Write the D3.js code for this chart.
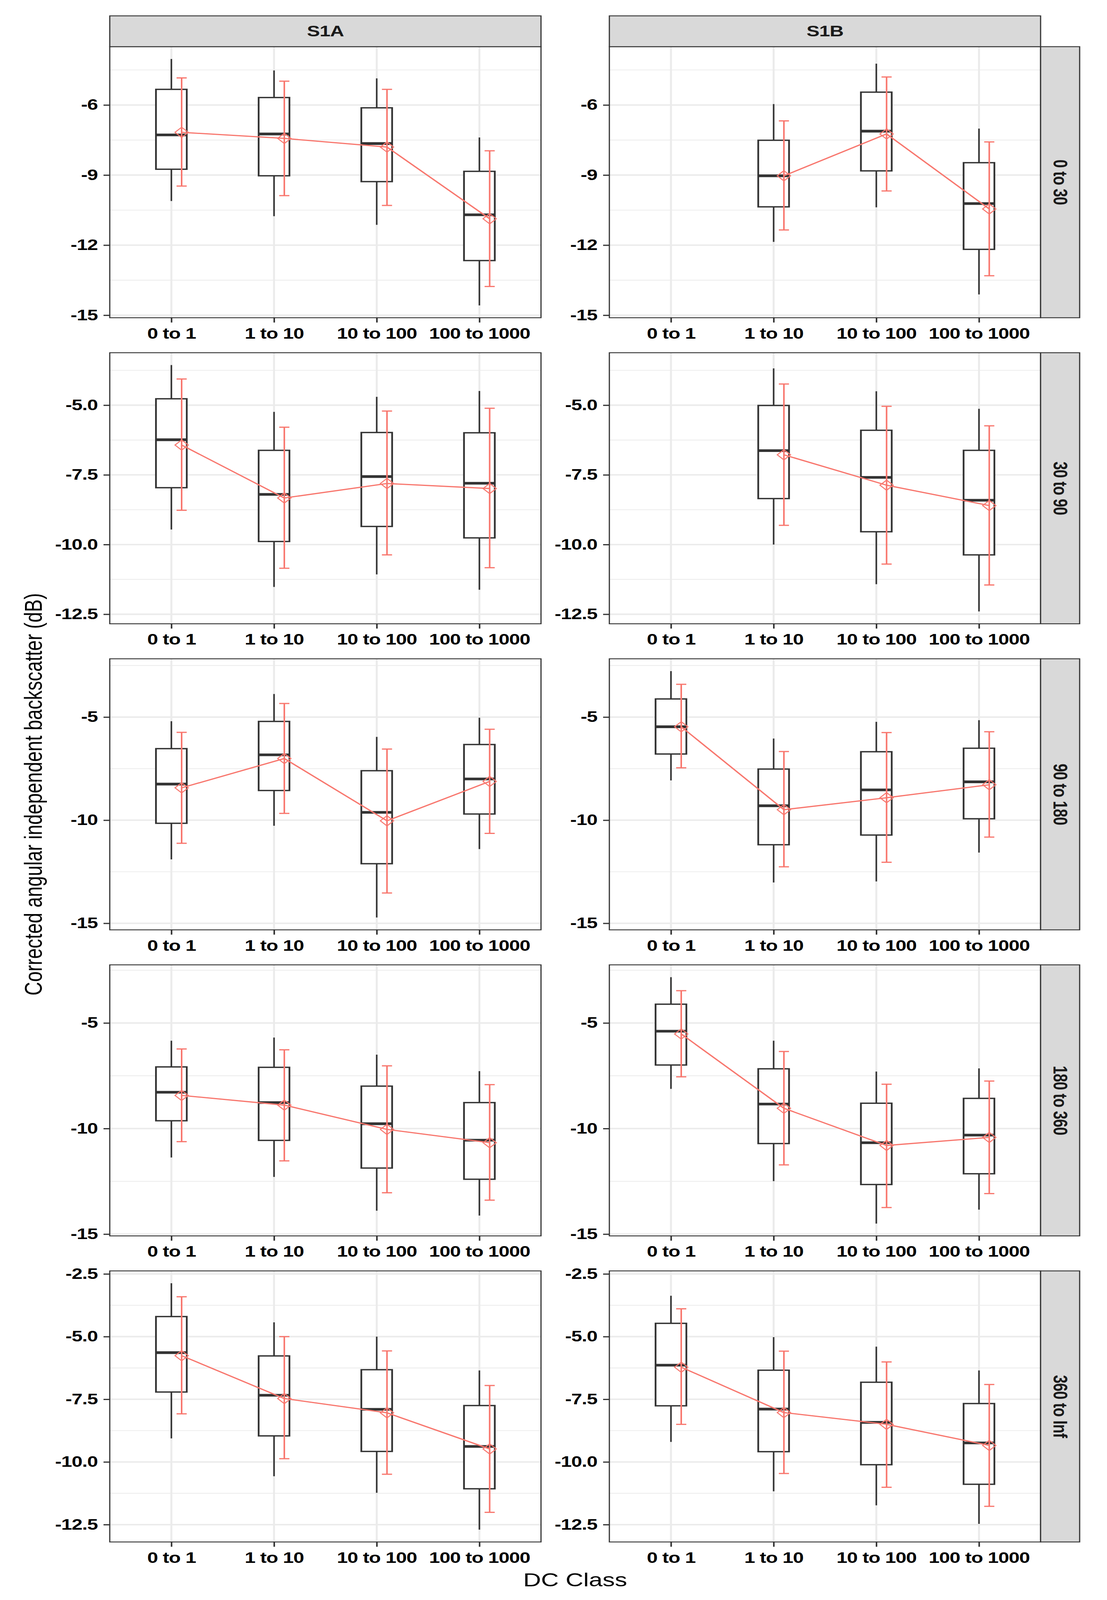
<!DOCTYPE html>
<html lang="en">
<head>
<meta charset="UTF-8">
<title>Corrected backscatter by DC class</title>
<script src="https://d3js.org/d3.v7.min.js"></script>
<style>
  html, body { margin: 0; padding: 0; background: #fff; overflow: hidden; }
  svg { display: block; width: 100vw; height: 100vh; background: #fff; font-family: "Liberation Sans", Arial, Helvetica, sans-serif; }
  .tick text { font-size: 50px; font-weight: bold; fill: #000; letter-spacing: -1px; }
  .strip-label { font-size: 50px; font-weight: bold; fill: #1a1a1a; letter-spacing: -1px; }
  .axis-title { font-size: 63px; fill: #000; }
</style>
</head>
<body>
<!-- drawn in a 2834x5348 frame, stretched onto whatever viewport the browser gives -->
<svg id="chart" viewBox="0 0 2834 5348" preserveAspectRatio="none"></svg>
<script>
const dcClasses = ["0 to 1", "1 to 10", "10 to 100", "100 to 1000"];
const sensors = ["S1A", "S1B"];
const angleBins = ["0 to 30", "30 to 90", "90 to 180", "180 to 360", "360 to Inf"];

// y breaks per angle bin (row) and decimals shown
const yTicks = [
  [-6, -9, -12, -15],
  [-5, -7.5, -10, -12.5],
  [-5, -10, -15],
  [-5, -10, -15],
  [-2.5, -5, -7.5, -10, -12.5]
];
const yDecimals = [0, 1, 0, 0, 1];

// boxplot stats: [lower whisker, q1, median, q3, upper whisker]
const s1aBox = [
  [[-10.11, -8.75, -7.28, -5.33, -4.03], [-10.76, -9.03, -7.24, -5.68, -4.52], [-11.13, -9.28, -7.65, -6.12, -4.86], [-14.58, -12.66, -10.70, -8.84, -7.39]],
  [[-9.46, -7.96, -6.24, -4.77, -3.56], [-11.52, -9.89, -8.20, -6.62, -5.24], [-11.07, -9.35, -7.56, -5.98, -4.70], [-11.62, -9.76, -7.80, -5.99, -4.49]],
  [[-11.90, -10.15, -8.25, -6.53, -5.20], [-10.27, -8.56, -6.83, -5.21, -3.88], [-14.72, -12.11, -9.62, -7.60, -5.96], [-11.40, -9.70, -8.00, -6.33, -5.03]],
  [[-11.37, -9.63, -8.28, -7.08, -5.84], [-12.29, -10.56, -8.77, -7.10, -5.69], [-13.89, -11.87, -9.77, -7.99, -6.50], [-14.12, -12.40, -10.55, -8.77, -7.28]],
  [[-9.06, -7.21, -5.64, -4.20, -2.87], [-10.57, -8.96, -7.34, -5.77, -4.43], [-11.23, -9.58, -7.90, -6.32, -5.00], [-12.70, -11.07, -9.38, -7.75, -6.35]]
];
const s1bBox = [
  [null, [-11.86, -10.36, -9.03, -7.51, -5.96], [-10.38, -8.82, -7.12, -5.45, -4.23], [-14.11, -12.18, -10.22, -8.47, -7.01]],
  [null, [-10.00, -8.35, -6.63, -5.01, -3.68], [-11.42, -9.54, -7.59, -5.90, -4.50], [-12.40, -10.37, -8.41, -6.62, -5.13]],
  [[-8.07, -6.79, -5.47, -4.12, -2.77], [-13.02, -11.19, -9.30, -7.52, -6.04], [-12.97, -10.72, -8.53, -6.68, -5.23], [-11.57, -9.93, -8.14, -6.51, -5.15]],
  [[-8.12, -6.99, -5.39, -4.11, -2.83], [-12.49, -10.71, -8.84, -7.17, -5.84], [-14.50, -12.65, -10.67, -8.80, -7.30], [-13.84, -12.14, -10.31, -8.57, -7.15]],
  [[-9.20, -7.76, -6.14, -4.47, -3.37], [-11.17, -9.59, -7.89, -6.34, -5.02], [-11.73, -10.11, -8.42, -6.82, -5.40], [-12.47, -10.89, -9.24, -7.67, -6.35]]
];

// mean and error bar ends
const s1aMean = [
  [-7.17, -7.43, -7.80, -10.87],
  [-6.43, -8.33, -7.81, -7.99],
  [-8.43, -7.01, -10.03, -8.12],
  [-8.43, -8.89, -10.04, -10.67],
  [-5.76, -7.47, -8.04, -9.48]
];
const s1aErrLo = [
  [-9.47, -9.88, -10.30, -13.77],
  [-8.77, -10.85, -10.37, -10.83],
  [-11.12, -9.67, -13.53, -10.64],
  [-10.62, -11.53, -13.04, -13.39],
  [-8.08, -9.87, -10.49, -12.01]
];
const s1aErrHi = [
  [-4.84, -4.98, -5.33, -7.96],
  [-4.06, -5.79, -5.21, -5.11],
  [-5.74, -4.34, -6.55, -5.59],
  [-6.23, -6.27, -7.03, -7.92],
  [-3.41, -5.00, -5.57, -6.95]
];
const s1bMean = [
  [null, -9.03, -7.24, -10.45],
  [null, -6.78, -7.87, -8.60],
  [-5.47, -9.49, -8.91, -8.28],
  [-5.52, -9.04, -10.80, -10.42],
  [-6.22, -8.03, -8.50, -9.34]
];
const s1bErrLo = [
  [null, -11.35, -9.68, -13.31],
  [null, -9.31, -10.70, -11.45],
  [-7.46, -12.26, -12.04, -10.82],
  [-7.55, -11.72, -13.74, -13.08],
  [-8.50, -10.46, -11.01, -11.77]
];
const s1bErrHi = [
  [null, -6.68, -4.80, -7.58],
  [null, -4.24, -5.04, -5.74],
  [-3.41, -6.67, -5.75, -5.71],
  [-3.47, -6.35, -7.90, -7.75],
  [-3.89, -5.58, -6.01, -6.91]
];

const boxes = [s1aBox, s1bBox];
const means = [s1aMean, s1bMean];
const errLo = [s1aErrLo, s1bErrLo];
const errHi = [s1aErrHi, s1bErrHi];

// layout
const svg = d3.select("#chart");
const panelX = [281, 1560];
const panelW = 1104, panelH = 906;
const rowTop = angleBins.map((_, i) => 156 + i * 1023);
const stripTop = 53, stripH = 103, stripRW = 100;
const red = "#F8766D", ink = "#333333", gridCol = "#EBEBEB";

const x = d3.scalePoint().domain(dcClasses).range([0, panelW]).padding(0.6);
const step = x.step();
const boxW = 0.3 * step;
const meanOff = 0.1 * step;
const capW = 26;
const dia = 17;

angleBins.forEach((bin, r) => {
  const vals = [];
  boxes.forEach(b => b[r].forEach(d => { if (d) vals.push(d[0], d[4]); }));
  errLo.concat(errHi).forEach(a => a[r].forEach(v => { if (v != null) vals.push(v); }));
  const [lo, hi] = d3.extent(vals);
  const pad = (hi - lo) * 0.05;
  const y = d3.scaleLinear().domain([lo - pad, hi + pad]).range([panelH, 0]);

  const majors = yTicks[r];
  const gap = Math.abs(majors[1] - majors[0]);
  const minors = Array.from(new Set(majors.flatMap(m => [m - gap / 2, m + gap / 2])))
    .filter(v => v >= lo - pad && v <= hi + pad && !majors.includes(v));

  sensors.forEach((sensor, c) => {
    const g = svg.append("g").attr("transform", `translate(${panelX[c]},${rowTop[r]})`);

    g.append("rect").attr("width", panelW).attr("height", panelH).attr("fill", "#fff");

    g.selectAll(".minor").data(minors).join("line")
      .attr("x1", 0).attr("x2", panelW)
      .attr("y1", d => y(d)).attr("y2", d => y(d))
      .attr("stroke", gridCol).attr("stroke-width", 2.5);
    g.selectAll(".major").data(majors).join("line")
      .attr("x1", 0).attr("x2", panelW)
      .attr("y1", d => y(d)).attr("y2", d => y(d))
      .attr("stroke", gridCol).attr("stroke-width", 5);
    g.selectAll(".vgrid").data(dcClasses).join("line")
      .attr("x1", d => x(d)).attr("x2", d => x(d))
      .attr("y1", 0).attr("y2", panelH)
      .attr("stroke", gridCol).attr("stroke-width", 5);

    // boxplots
    const bd = dcClasses.map((k, i) => ({ k, s: boxes[c][r][i] })).filter(d => d.s);
    const bg = g.selectAll(".box").data(bd).join("g");
    bg.append("line")
      .attr("x1", d => x(d.k)).attr("x2", d => x(d.k))
      .attr("y1", d => y(d.s[0])).attr("y2", d => y(d.s[1]))
      .attr("stroke", ink).attr("stroke-width", 4);
    bg.append("line")
      .attr("x1", d => x(d.k)).attr("x2", d => x(d.k))
      .attr("y1", d => y(d.s[3])).attr("y2", d => y(d.s[4]))
      .attr("stroke", ink).attr("stroke-width", 4);
    bg.append("rect")
      .attr("x", d => x(d.k) - boxW / 2).attr("width", boxW)
      .attr("y", d => y(d.s[3])).attr("height", d => y(d.s[1]) - y(d.s[3]))
      .attr("fill", "#fff").attr("stroke", ink).attr("stroke-width", 4.5);
    bg.append("line")
      .attr("x1", d => x(d.k) - boxW / 2).attr("x2", d => x(d.k) + boxW / 2)
      .attr("y1", d => y(d.s[2])).attr("y2", d => y(d.s[2]))
      .attr("stroke", ink).attr("stroke-width", 9);

    // mean +/- error
    const md = dcClasses.map((k, i) => ({ k, m: means[c][r][i], lo: errLo[c][r][i], hi: errHi[c][r][i] }))
      .filter(d => d.m != null);
    const eg = g.selectAll(".err").data(md).join("g")
      .attr("stroke", red).attr("stroke-width", 4).attr("fill", "none");
    eg.append("line")
      .attr("x1", d => x(d.k) + meanOff).attr("x2", d => x(d.k) + meanOff)
      .attr("y1", d => y(d.lo)).attr("y2", d => y(d.hi));
    eg.append("line")
      .attr("x1", d => x(d.k) + meanOff - capW / 2).attr("x2", d => x(d.k) + meanOff + capW / 2)
      .attr("y1", d => y(d.lo)).attr("y2", d => y(d.lo));
    eg.append("line")
      .attr("x1", d => x(d.k) + meanOff - capW / 2).attr("x2", d => x(d.k) + meanOff + capW / 2)
      .attr("y1", d => y(d.hi)).attr("y2", d => y(d.hi));

    g.append("path").datum(md)
      .attr("d", d3.line().x(d => x(d.k) + meanOff).y(d => y(d.m)))
      .attr("fill", "none").attr("stroke", red).attr("stroke-width", 4);

    g.selectAll(".mean").data(md).join("path")
      .attr("transform", d => `translate(${x(d.k) + meanOff},${y(d.m)})`)
      .attr("d", `M0,${-dia}L${dia},0L0,${dia}L${-dia},0Z`)
      .attr("fill", "none").attr("stroke", red).attr("stroke-width", 3);

    g.append("rect").attr("width", panelW).attr("height", panelH)
      .attr("fill", "none").attr("stroke", ink).attr("stroke-width", 3);

    // axes
    const ya = g.append("g").call(d3.axisLeft(y).tickValues(majors).tickSize(16).tickPadding(15)
      .tickFormat(d => d.toFixed(yDecimals[r])));
    const xa = g.append("g").attr("transform", `translate(0,${panelH})`)
      .call(d3.axisBottom(x).tickSize(16).tickPadding(18));
    [ya, xa].forEach(a => {
      a.select(".domain").remove();
      a.selectAll(".tick line").attr("stroke", ink).attr("stroke-width", 4);
      a.attr("font-family", null).attr("font-size", null);
    });

    // top strips
    if (r === 0) {
      g.append("rect").attr("y", stripTop - rowTop[0]).attr("width", panelW).attr("height", stripH)
        .attr("fill", "#D9D9D9").attr("stroke", ink).attr("stroke-width", 3);
      g.append("text").attr("class", "strip-label")
        .attr("x", panelW / 2).attr("y", stripTop - rowTop[0] + stripH / 2)
        .attr("text-anchor", "middle").attr("dominant-baseline", "central")
        .text(sensor);
    }
    // right strips
    if (c === sensors.length - 1) {
      g.append("rect").attr("x", panelW).attr("width", stripRW).attr("height", panelH)
        .attr("fill", "#D9D9D9").attr("stroke", ink).attr("stroke-width", 3);
      g.append("text").attr("class", "strip-label")
        .attr("transform", `translate(${panelW + stripRW / 2},${panelH / 2}) rotate(90)`)
        .attr("text-anchor", "middle").attr("dominant-baseline", "central")
        .text(bin);
    }
  });
});

const plotTop = rowTop[0], plotBottom = rowTop[rowTop.length - 1] + panelH;
svg.append("text").attr("class", "axis-title")
  .attr("transform", `translate(107,${(plotTop + plotBottom) / 2}) rotate(-90)`)
  .attr("text-anchor", "middle")
  .text("Corrected angular independent backscatter (dB)");
svg.append("text").attr("class", "axis-title")
  .attr("x", (panelX[0] + panelX[1] + panelW) / 2).attr("y", 5302)
  .attr("text-anchor", "middle")
  .text("DC Class");
</script>
</body>
</html>
